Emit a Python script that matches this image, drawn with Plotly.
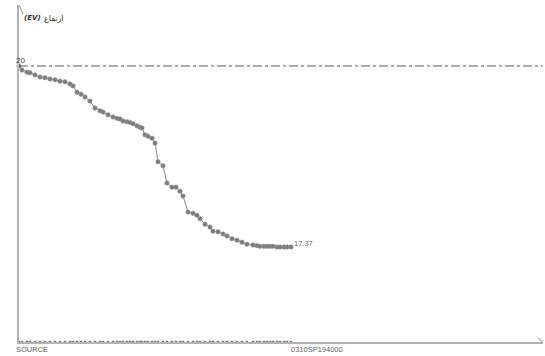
import plotly.graph_objects as go

# distance along profile (km) and elevation values
distance = [0.00, 0.15, 0.40, 0.55, 0.80, 1.05, 1.30, 1.55, 1.80, 2.05, 2.30, 2.55, 2.70,
            2.90, 3.10, 3.30, 3.55, 3.80, 4.05, 4.20, 4.45, 4.70, 4.90, 5.05, 5.20, 5.40,
            5.55, 5.70, 5.90, 6.05, 6.15, 6.30, 6.45, 6.65, 6.80, 6.95, 7.20, 7.40, 7.65,
            7.85, 8.05, 8.20, 8.45, 8.70, 8.90, 9.05, 9.30, 9.55, 9.70, 9.95, 10.20, 10.40,
            10.65, 10.90, 11.15, 11.40, 11.70, 11.90, 12.05, 12.25, 12.40, 12.55, 12.70,
            12.90, 13.05, 13.25, 13.40, 13.60]
elevation = [20.00, 19.94, 19.91, 19.90, 19.87, 19.84, 19.83, 19.81, 19.80, 19.78, 19.77,
             19.74, 19.71, 19.62, 19.59, 19.55, 19.49, 19.39, 19.35, 19.33, 19.29, 19.26,
             19.24, 19.23, 19.20, 19.19, 19.18, 19.16, 19.13, 19.11, 19.10, 19.00, 18.98,
             18.95, 18.88, 18.61, 18.55, 18.30, 18.24, 18.24, 18.18, 18.11, 17.88, 17.86,
             17.83, 17.78, 17.70, 17.66, 17.60, 17.59, 17.56, 17.53, 17.49, 17.47, 17.44,
             17.41, 17.40, 17.39, 17.38, 17.38, 17.38, 17.38, 17.38, 17.37, 17.37, 17.37,
             17.37, 17.37]
reference_level = 20
start_label = "SOURCE"
end_label = "0310SP194000"
end_value_label = "17.37"
start_value_label = "20"
y_title_unit = "<b><i>(EV)</i></b>"
y_title_word = "ارتفاع"

Y_MIN, Y_MAX = 15.99, 20.886
X_MIN, X_MAX = 0, 26.2

AXIS_COLOR = "#b4b4b4"
TEXT_COLOR = "#666666"
FONT = "Liberation Sans"

fig = go.Figure()

# dots along the x axis at each sample
fig.add_trace(go.Scatter(
    x=distance, y=[Y_MIN] * len(distance), mode="markers",
    marker=dict(size=2.5, color="#7a7a7a", symbol="square"),
    cliponaxis=False, hoverinfo="skip", showlegend=False))

# profile line
fig.add_trace(go.Scatter(
    x=distance, y=elevation, mode="lines+markers",
    line=dict(color="#8a8a8a", width=1),
    marker=dict(size=4.5, color="#7c7c7c", line=dict(width=0.6, color="#9a9a9a")),
    cliponaxis=False, showlegend=False))

# reference dash-dot line
fig.add_shape(type="line", xref="paper", yref="y", x0=0, x1=1,
              y0=reference_level, y1=reference_level,
              line=dict(color="#5a5a5a", width=1, dash="dashdot"))

# arrow heads on axes
for dx in (-4, 4):
    fig.add_shape(type="line", xref="x", xsizemode="pixel", xanchor=X_MIN,
                  yref="paper", ysizemode="pixel", yanchor=1,
                  x0=0, x1=dx, y0=0, y1=-9,
                  line=dict(color=AXIS_COLOR, width=1.5))
for dy in (-4, 4):
    fig.add_shape(type="line", xref="paper", xsizemode="pixel", xanchor=1,
                  yref="y", ysizemode="pixel", yanchor=Y_MIN,
                  x0=0, x1=-5, y0=0, y1=dy,
                  line=dict(color=AXIS_COLOR, width=1.5))

ann_font = dict(family=FONT, size=7.5, color=TEXT_COLOR)
fig.add_annotation(x=distance[0], y=elevation[0], text=start_value_label, showarrow=False,
                   xanchor="center", yanchor="bottom", yshift=-1, xshift=1,
                   font=dict(family=FONT, size=8, color="#444444"))
fig.add_annotation(x=distance[-1], y=elevation[-1], text=end_value_label, showarrow=False,
                   xanchor="left", yanchor="bottom", xshift=1, yshift=-3, font=ann_font)
fig.add_annotation(x=distance[0], y=Y_MIN, text=start_label, showarrow=False,
                   xanchor="left", yanchor="top", xshift=-5, yshift=-1, font=ann_font)
fig.add_annotation(x=distance[-1], y=Y_MIN, text=end_label, showarrow=False,
                   xanchor="left", yanchor="top", xshift=-2, yshift=-1, font=ann_font)
fig.add_annotation(x=X_MIN, y=1, yref="paper", text=y_title_unit, showarrow=False,
                   xanchor="left", yanchor="top", xshift=3, yshift=-7,
                   font=dict(family="DejaVu Sans", size=7, color="#333333"))
fig.add_annotation(x=X_MIN, y=1, yref="paper", text=y_title_word, showarrow=False,
                   xanchor="left", yanchor="top", xshift=23, yshift=-7,
                   font=dict(family="DejaVu Sans", size=8, color="#333333"))

fig.update_xaxes(range=[X_MIN, X_MAX], showgrid=False, zeroline=False, showticklabels=False,
                 ticks="", showline=True, linecolor=AXIS_COLOR, linewidth=2)
fig.update_yaxes(range=[Y_MIN, Y_MAX], showgrid=False, zeroline=False, showticklabels=False,
                 ticks="", showline=True, linecolor=AXIS_COLOR, linewidth=2)

fig.update_layout(width=545, height=356, margin=dict(l=19, r=2, t=5, b=14),
                  paper_bgcolor="white", plot_bgcolor="white", showlegend=False)

fig.write_html("out.html", config={"displayModeBar": False},
               post_script="document.body.style.margin='0';document.body.style.overflow='hidden';")
